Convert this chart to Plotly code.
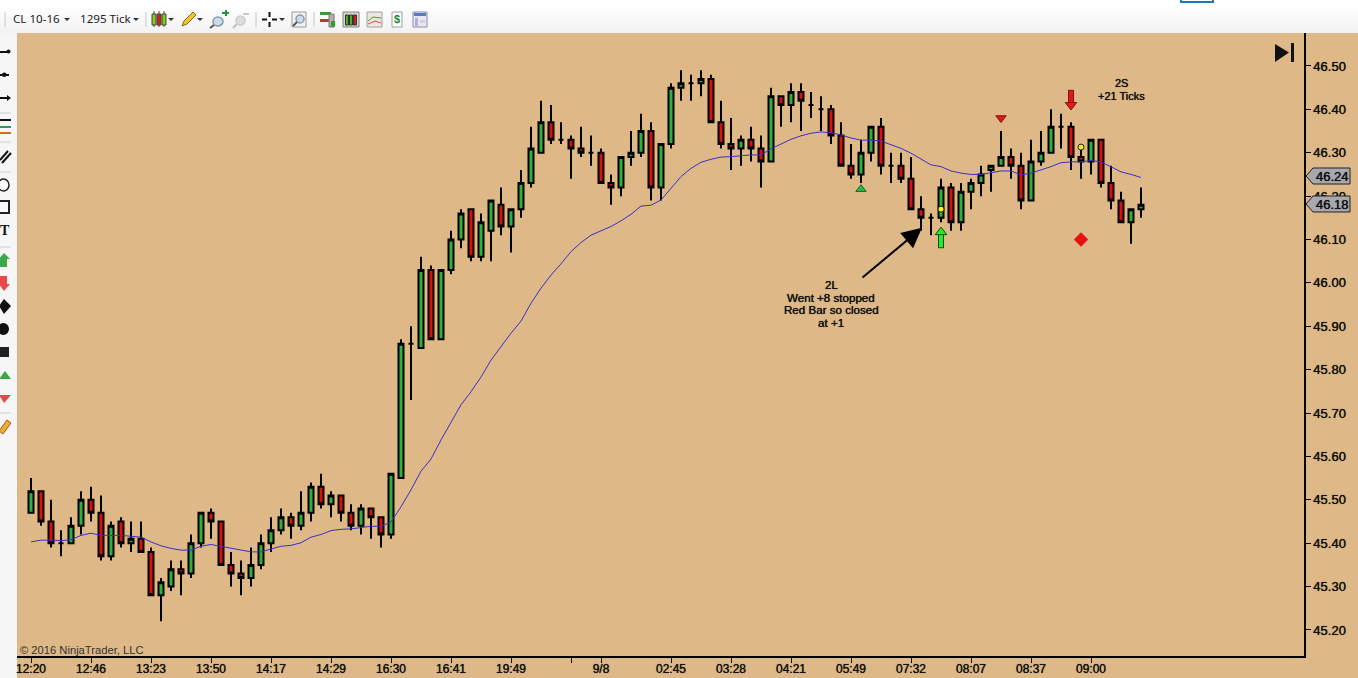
import plotly.graph_objects as go

W, H = 1358, 678

# ---------- chart values ----------
opens = [45.47,45.52,45.45,45.40,45.40,45.44,45.50,45.47,45.37,45.45,
         45.40,45.41,45.38,45.28,45.30,45.34,45.33,45.40,45.47,45.45,
         45.35,45.33,45.32,45.35,45.40,45.43,45.46,45.44,45.47,45.53,
         45.49,45.51,45.47,45.44,45.48,45.46,45.42,45.55,45.86,45.85,
         46.03,45.87,46.03,46.10,46.17,46.06,46.12,46.18,46.13,46.17,
         46.23,46.30,46.37,46.33,46.33,46.31,46.30,46.30,46.23,46.22,
         46.29,46.30,46.35,46.22,46.32,46.45,46.46,46.46,46.47,46.37,
         46.32,46.31,46.33,46.31,46.28,46.43,46.41,46.44,46.41,46.40,
         46.40,46.34,46.27,46.25,46.30,46.36,46.27,46.27,46.24,46.17,
         46.15,46.15,46.22,46.14,46.21,46.23,46.26,46.27,46.29,46.27,
         46.19,46.28,46.30,46.36,46.36,46.29,46.28,46.33,46.23,46.19,
         46.14,46.17]
closes = [45.52,45.45,45.40,45.40,45.44,45.50,45.47,45.37,45.44,45.40,
          45.41,45.38,45.28,45.31,45.34,45.33,45.40,45.47,45.45,45.35,
          45.33,45.32,45.35,45.40,45.43,45.46,45.44,45.47,45.53,45.49,
          45.51,45.47,45.44,45.48,45.46,45.42,45.56,45.86,45.86,46.03,
          45.87,46.03,46.10,46.16,46.06,46.14,46.19,46.13,46.17,46.23,
          46.31,46.37,46.33,46.33,46.31,46.30,46.30,46.23,46.22,46.29,
          46.30,46.35,46.22,46.32,46.45,46.46,46.46,46.47,46.37,46.32,
          46.31,46.33,46.31,46.28,46.43,46.41,46.44,46.42,46.41,46.40,
          46.34,46.27,46.25,46.30,46.36,46.27,46.27,46.24,46.17,46.15,
          46.15,46.22,46.14,46.21,46.23,46.25,46.27,46.29,46.27,46.19,
          46.28,46.30,46.36,46.36,46.29,46.28,46.33,46.23,46.19,46.14,
          46.17,46.18]
highs = [45.55,45.52,45.50,45.43,45.46,45.52,45.53,45.51,45.45,45.46,
         45.45,45.45,45.39,45.32,45.36,45.36,45.42,45.47,45.48,45.45,
         45.38,45.36,45.39,45.42,45.46,45.48,45.47,45.52,45.54,45.56,
         45.52,45.51,45.49,45.49,45.48,45.46,45.56,45.87,45.90,46.06,
         46.04,46.03,46.12,46.17,46.17,46.16,46.19,46.22,46.17,46.26,
         46.36,46.42,46.41,46.37,46.34,46.36,46.34,46.31,46.25,46.29,
         46.35,46.39,46.37,46.32,46.46,46.49,46.48,46.49,46.48,46.42,
         46.38,46.34,46.36,46.34,46.45,46.43,46.46,46.46,46.44,46.43,
         46.41,46.37,46.32,46.33,46.36,46.38,46.30,46.30,46.29,46.20,
         46.16,46.24,46.23,46.23,46.24,46.27,46.27,46.35,46.31,46.30,
         46.33,46.35,46.40,46.39,46.37,46.31,46.33,46.33,46.27,46.21,
         46.17,46.22]
lows = [45.47,45.44,45.39,45.37,45.40,45.42,45.45,45.36,45.36,45.39,
        45.38,45.38,45.28,45.22,45.29,45.28,45.32,45.39,45.41,45.35,
        45.30,45.28,45.30,45.34,45.38,45.42,45.41,45.43,45.45,45.48,
        45.46,45.45,45.43,45.42,45.41,45.39,45.41,45.55,45.73,45.85,
        45.87,45.87,46.02,46.08,46.05,46.05,46.05,46.11,46.07,46.15,
        46.22,46.30,46.32,46.32,46.24,46.29,46.27,46.23,46.18,46.20,
        46.27,46.29,46.19,46.19,46.31,46.42,46.42,46.43,46.37,46.31,
        46.26,46.27,46.28,46.22,46.28,46.36,46.37,46.35,46.38,46.35,
        46.32,46.27,46.24,46.23,46.28,46.25,46.23,46.23,46.17,46.12,
        46.11,46.14,46.12,46.12,46.17,46.20,46.21,46.27,46.24,46.17,
        46.19,46.27,46.30,46.31,46.26,46.24,46.25,46.22,46.17,46.14,
        46.09,46.15]
moving_average = [45.403,45.407,45.407,45.406,45.408,45.418,45.423,45.418,45.418,45.418,
                  45.416,45.414,45.403,45.394,45.388,45.384,45.384,45.393,45.397,45.393,
                  45.389,45.384,45.380,45.380,45.386,45.393,45.395,45.401,45.414,45.420,
                  45.429,45.432,45.433,45.436,45.439,45.439,45.449,45.484,45.523,45.566,
                  45.594,45.638,45.680,45.719,45.749,45.783,45.822,45.853,45.884,45.912,
                  45.953,45.988,46.018,46.044,46.072,46.093,46.110,46.120,46.130,46.143,
                  46.158,46.177,46.179,46.191,46.218,46.245,46.264,46.278,46.285,46.290,
                  46.291,46.293,46.295,46.295,46.309,46.320,46.331,46.339,46.345,46.348,
                  46.346,46.341,46.334,46.329,46.329,46.327,46.319,46.310,46.299,46.285,
                  46.272,46.268,46.258,46.253,46.250,46.250,46.254,46.258,46.258,46.249,
                  46.253,46.260,46.268,46.277,46.279,46.279,46.282,46.279,46.268,46.256,
                  46.250,46.243]
bar_index = list(range(len(opens)))

time_tick_index = [0, 6, 12, 18, 24, 30, 36, 42, 48, 54, 57, 64, 70, 76, 82, 88, 94, 100, 106]
time_tick_label = ["12:20", "12:46", "13:23", "13:50", "14:17", "14:29", "16:30", "16:41", "19:49", "",
                   "9/8", "02:45", "03:28", "04:21", "05:49", "07:32", "08:07", "08:37", "09:00"]
price_ticks = [45.20, 45.30, 45.40, 45.50, 45.60, 45.70, 45.80, 45.90, 46.00, 46.10, 46.20, 46.30, 46.40, 46.50]
price_tick_label = ["%.2f" % p for p in price_ticks]

# signal marks on the chart
long_arrow = dict(bar=91, top=46.125, bottom=46.080)
short_arrow = dict(bar=104, top=46.445, tip=46.402)
up_triangle = dict(bar=83, price=46.216)
down_triangle = dict(bar=97, price=46.380)
yellow_dot_bars = [91, 105]
yellow_dot_prices = [46.170, 46.313]
diamond = dict(bar=105, price=46.100)
last_prices = ["46.24", "46.18"]
note_long = ["2L", "Went +8 stopped", "Red Bar so closed", "at +1"]
note_short = ["2S", "+21 Ticks"]

INK = "#111111"
GREEN = "#2eb23c"
RED = "#d81010"
TAN = "#deb887"
TXT = "Liberation Sans, Arial, sans-serif"
UI = "Noto Sans, Open Sans, sans-serif"
HEAVY = "0 0 0.7px #000000"

fig = go.Figure()
fig.add_trace(go.Candlestick(
    x=bar_index, open=opens, high=highs, low=lows, close=closes,
    increasing=dict(line=dict(color="#000000", width=2), fillcolor=GREEN),
    decreasing=dict(line=dict(color="#000000", width=2), fillcolor=RED),
    whiskerwidth=0, showlegend=False, hoverinfo="skip"))
fig.add_trace(go.Scatter(x=bar_index, y=moving_average, mode="lines",
                         line=dict(color="#3a30c8", width=1), showlegend=False, hoverinfo="skip"))

def mark(x, y, symbol, size, color, outline=None, lw=0):
    fig.add_trace(go.Scatter(x=x, y=y, mode="markers", showlegend=False, hoverinfo="skip",
                             marker=dict(symbol=symbol, size=size, color=color,
                                         line=dict(color=outline or color, width=lw))))

def shaft(bar, a, b, color, width):
    fig.add_trace(go.Scatter(x=[bar, bar], y=[a, b], mode="lines", showlegend=False, hoverinfo="skip",
                             line=dict(color=color, width=width)))

# long arrow
shaft(long_arrow["bar"], long_arrow["top"] - 0.012, long_arrow["bottom"], "#0c4a10", 6)
shaft(long_arrow["bar"], long_arrow["top"] - 0.012, long_arrow["bottom"] + 0.002, "#22ee22", 4)
mark([long_arrow["bar"]], [long_arrow["top"] - 0.008], "triangle-up", 10, "#22ee22", "#0c4a10", 1)
# short arrow
shaft(short_arrow["bar"], short_arrow["top"], short_arrow["tip"] + 0.012, "#8a1010", 6)
shaft(short_arrow["bar"], short_arrow["top"] - 0.002, short_arrow["tip"] + 0.012, "#e01818", 4)
mark([short_arrow["bar"]], [short_arrow["tip"] + 0.008], "triangle-down", 10, "#e01818", "#8a1010", 1)
mark([up_triangle["bar"]], [up_triangle["price"]], "triangle-up", 9, "#28b848", "#146a28", 1)
mark([down_triangle["bar"]], [down_triangle["price"]], "triangle-down", 9, "#e01818", "#8a1010", 1)
mark(yellow_dot_bars, yellow_dot_prices, "circle", 6, "#f8ee20", "#222200", 1)
mark([diamond["bar"]], [diamond["price"]], "diamond", 11, "#e81010", "#e81010", 0)

# ---------- window chrome helpers (pixel positions of the surrounding UI) ----------
shapes, annos = [], []
fx = lambda x: x / W
fy = lambda y: 1 - y / H

def rect(x0, y0, x1, y1, fill, line=None, lw=0, layer="below"):
    shapes.append(dict(type="rect", xref="paper", yref="paper", x0=fx(x0), x1=fx(x1), y0=fy(y0), y1=fy(y1),
                       fillcolor=fill, line=dict(color=line or fill, width=lw), layer=layer))

def seg(x0, y0, x1, y1, color, lw=1, layer="above"):
    shapes.append(dict(type="line", xref="paper", yref="paper", x0=fx(x0), x1=fx(x1), y0=fy(y0), y1=fy(y1),
                       line=dict(color=color, width=lw), layer=layer))

def poly(points, fill, line=None, lw=0, layer="above"):
    p = "M " + " L ".join("%.5f %.5f" % (fx(a), fy(b)) for a, b in points) + " Z"
    shapes.append(dict(type="path", xref="paper", yref="paper", path=p, fillcolor=fill,
                       line=dict(color=line or fill, width=lw), layer=layer))

def oval(x0, y0, x1, y1, fill, line=None, lw=0):
    shapes.append(dict(type="circle", xref="paper", yref="paper", x0=fx(x0), x1=fx(x1), y0=fy(y0), y1=fy(y1),
                       fillcolor=fill, line=dict(color=line or fill, width=lw), layer="above"))

def label(x, y, text, size=12, color=INK, family=TXT, anchor="center", shadow=None):
    f = dict(family=family, size=size, color=color)
    if shadow:
        f["shadow"] = shadow
    annos.append(dict(xref="paper", yref="paper", x=fx(x), y=fy(y), text=text, showarrow=False,
                      font=f, xanchor=anchor, yanchor="middle", align="center", borderpad=0))

# toolbar backgrounds
for i, c in enumerate(["#ffffff", "#ffffff", "#fdfdfd", "#fbfbfb", "#f9f9f9", "#f7f7f7", "#f5f5f5", "#f3f3f3"]):
    rect(0, i * 4, W, i * 4 + 5, c)
rect(0, 33, 17, H, "#f6f6f6")
rect(17, 656, W, H, TAN)
rect(1304, 33, W, H, TAN)
rect(1181, -1, 1213, 2, "#ffffff", "#1a76c0", 2)

# top toolbar
seg(5, 12, 5, 27, "#c8c8c8")
label(12, 18.5, "CL 10-16", 11.6, "#222222", UI, "left")
label(78.5, 18.5, "1295 Tick", 11.6, "#222222", UI, "left")
def caret(x, y=19):
    poly([(x - 3, y - 1), (x + 3, y - 1), (x, y + 2)], "#333333")
for cx in [67, 136, 171, 200, 282]:
    caret(cx)
for sx in [146, 256, 314]:
    seg(sx, 12, sx, 27, "#c8c8c8")
# candle icon
for bx, c in [(154, "#7cd010"), (159, "#d02020"), (164, "#7cd010")]:
    seg(bx, 11, bx, 27, "#444444", 1)
    rect(bx - 2, 14, bx + 2, 25, c, "#444444", 1, "above")
# pencil
poly([(182, 26), (184, 21), (193, 12), (196, 15), (187, 24)], "#f4c430", "#8a6a10", 1)
# magnifiers
oval(213, 17, 223, 26, "#c8dcec", "#8a9aa8", 1.5)
seg(214, 25, 210, 28, "#555555", 2)
poly([(222, 12), (225, 12), (225, 10), (227, 10), (227, 12), (229, 12), (229, 14), (227, 14), (227, 16), (225, 16), (225, 14), (222, 14)], "#1a9a3a")
oval(236, 16, 245, 25, "#dddddd", "#cccccc", 1.5)
seg(237, 24, 233, 28, "#c0c0c0", 2)
seg(243, 14, 249, 14, "#c8c8c8", 2)
# crosshair
for a in [(262, 19.5, 267, 19.5), (272, 19.5, 277, 19.5), (269.5, 12, 269.5, 17), (269.5, 22, 269.5, 27)]:
    seg(*a, "#111111", 2)
# zoom box
rect(292, 12, 306, 27, "#f2f2f2", "#9a9a9a", 1, "above")
oval(296, 15, 304, 23, "#c8dcec", "#8a9aa8", 1.5)
seg(297, 22, 293, 26, "#555555", 2)
# indicator icons
rect(320, 12, 331, 15, "#30a030", None, 0, "above")
rect(320, 19, 330, 22, "#d03030", None, 0, "above")
rect(329, 14, 334, 27, "#b0b0b0", "#777777", 1, "above")
rect(331, 21, 335, 27, "#30a030", None, 0, "above")
rect(343, 12, 359, 27, "#d8d8d8", "#808080", 1, "above")
for bx, c in [(347, "#50b020"), (351, "#50b020"), (355, "#d02020")]:
    rect(bx - 1.5, 15, bx + 1.5, 25, c, "#333333", 1, "above")
rect(367, 12, 382, 27, "#efe6e0", "#a0a0a0", 1, "above")
seg(368, 21, 373, 17, "#40a040", 1)
seg(373, 17, 381, 18, "#40a040", 1)
seg(368, 24, 375, 21, "#d05050", 1)
seg(375, 21, 381, 23, "#d05050", 1)
rect(392, 12, 402, 27, "#ffffff", "#a0a0a0", 1, "above")
label(397, 19.5, "<b>$</b>", 11, "#1a8a3a")
rect(413, 12, 427, 27, "#e8e8f4", "#8a8ab0", 1, "above")
rect(414, 13, 426, 16, "#5a7ac0", None, 0, "above")
rect(415, 18, 418, 26, "#b0b0d8", None, 0, "above")
rect(420, 20, 425, 23, "#d0d0e0", None, 0, "above")

# left toolbar
for sy in [113, 142, 172, 247, 413]:
    seg(0, sy, 11, sy, "#cfcfcf")
seg(0, 52, 9, 52, "#111111", 2)
oval(6.5, 49.5, 10.5, 53.5, "#111111")
seg(0, 75, 9, 75, "#111111", 2)
oval(2, 72.5, 6.5, 77, "#111111")
seg(0, 98, 8, 98, "#111111", 2)
poly([(7, 95), (11, 98), (7, 101)], "#111111")
seg(0, 120, 11, 120, "#111111", 2)
seg(0, 127, 11, 127, "#2a9a5a", 2)
seg(0, 133, 11, 133, "#e06a20", 2)
seg(0, 160, 8, 151, "#111111", 2)
seg(2, 163, 11, 153, "#111111", 2)
oval(-2, 179, 9, 191, "#fafafa", "#222222", 1.5)
rect(-2, 201, 9, 213, "#fafafa", "#222222", 2, "above")
label(4.5, 231, "<b>T</b>", 14, "#111111", "Liberation Serif, serif")
poly([(0, 263), (0, 259), (-1, 259), (4, 253), (10, 259), (7, 259), (7, 267), (0, 267)], "#3aa84a")
poly([(0, 276), (7, 276), (7, 284), (10, 284), (4, 291), (-1, 284), (0, 284)], "#e84848")
poly([(-1, 306), (4, 299), (11, 306), (4, 314)], "#111111")
oval(-2, 323, 9, 335, "#111111")
rect(-1, 347, 9, 357, "#222222", None, 0, "above")
poly([(-1, 379), (5, 371), (11, 379)], "#3aa84a")
poly([(-1, 395), (11, 395), (4, 403)], "#e84848")
poly([(-1, 431), (7, 420), (11, 423), (3, 434)], "#e8b030", "#c05020", 1)

# end-of-chart button
poly([(1275, 44), (1289, 52.5), (1275, 62)], "#111111")
rect(1291, 43, 1294, 62, "#111111", None, 0, "above")

# last-price tags
for ymid, txt in zip([176, 204], last_prices):
    poly([(1306, ymid), (1313, ymid - 8), (1350, ymid - 8), (1350, ymid + 8), (1313, ymid + 8)],
         "#a8a8ae", "#222222", 1)
    label(1332, ymid + 0.5, txt, 13, "#111111", shadow=HEAVY)

# text on the chart
for ty, line in zip([284.5, 297.5, 309.5, 322.5], note_long):
    label(831, ty, line, 11.6, "#111111", shadow=HEAVY)
for ty, line in zip([83, 96], note_short):
    label(1121, ty, line, 11, "#111111", shadow=HEAVY)
label(19, 650, "\u00a9 2016 NinjaTrader, LLC", 11.2, "#333333", TXT, "left")

# arrow pointing at the 2L bar
annos.append(dict(x=89.1, y=46.127, xref="x", yref="y", ax=-61, ay=51, axref="pixel", ayref="pixel",
                  showarrow=True, arrowhead=2, arrowsize=2, arrowwidth=2, arrowcolor="#000000", text=""))

fig.update_layout(
    width=W, height=H, autosize=False,
    margin=dict(l=0, r=0, t=0, b=0, autoexpand=False),
    paper_bgcolor="#ffffff", plot_bgcolor=TAN,
    showlegend=False, boxgap=0.5, boxgroupgap=0,
    shapes=shapes, annotations=annos,
    xaxis=dict(domain=[17 / W, 1304 / W], range=[-1.4, 127.3], rangeslider=dict(visible=False),
               tickmode="array", tickvals=time_tick_index, ticktext=time_tick_label,
               ticks="outside", ticklen=5, tickwidth=1, tickcolor="#000000",
               showgrid=False, zeroline=False, showline=True, linecolor="#000000", linewidth=1.5,
               tickangle=0, ticklabelstandoff=-4,
               tickfont=dict(family=TXT, size=12, color=INK, shadow=HEAVY)),
    yaxis=dict(domain=[(H - 656) / H, (H - 33) / H], range=[45.140, 46.576], side="right",
               tickmode="array", tickvals=price_ticks, ticktext=price_tick_label,
               ticks="outside", ticklen=5, tickwidth=1, tickcolor="#000000",
               showgrid=False, zeroline=False, showline=True, linecolor="#000000", linewidth=1.5,
               tickfont=dict(family=TXT, size=13, color=INK, shadow=HEAVY)),
)

fig.write_html("out.html", config={"displayModeBar": False},
               post_script="document.body.style.margin='0';document.body.style.overflow='hidden';")
